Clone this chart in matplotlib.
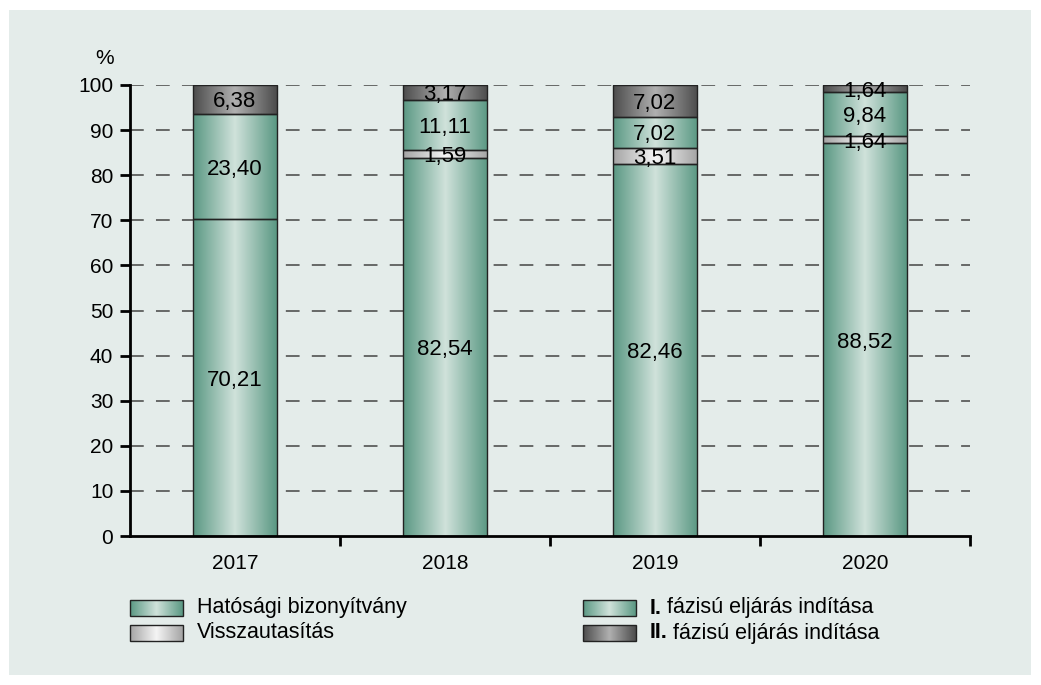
import numpy as np
import matplotlib
matplotlib.use("Agg")
import matplotlib.pyplot as plt
from matplotlib.colors import LinearSegmentedColormap
from matplotlib.patches import Rectangle

plt.rcParams['font.family'] = ['Liberation Sans', 'DejaVu Sans']

years = ["2017", "2018", "2019", "2020"]
hatosagi = [70.21, 82.54, 82.46, 88.52]
visszautasitas = [0.0, 1.59, 3.51, 1.64]
fazis1 = [23.40, 11.11, 7.02, 9.84]
fazis2 = [6.38, 3.17, 7.02, 1.64]

series = [
    (("", "Hatósági bizonyítvány"), hatosagi),
    (("", "Visszautasítás"), visszautasitas),
    (("I.", "fázisú eljárás indítása"), fazis1),
    (("II.", "fázisú eljárás indítása"), fazis2),
]

# edge colour / centre colour for the horizontal gradient
grad = [
    ("#5a9883", "#d0e2db"),
    ("#a4a4a4", "#f5f5f5"),
    ("#5a9883", "#d0e2db"),
    ("#4c4c4c", "#b0b0b0"),
]

bg = "#e4ecea"
W, H = 1041, 685

fig = plt.figure(figsize=(W / 100, H / 100), dpi=100)
fig.patch.set_facecolor("white")

# background panel
bgax = fig.add_axes([0, 0, 1, 1])
bgax.set_xlim(0, W)
bgax.set_ylim(H, 0)
bgax.axis("off")
bgax.add_patch(Rectangle((9, 10), W - 19, H - 20, facecolor=bg, edgecolor="none"))

ax = fig.add_axes([130 / W, (H - 536) / H, 840 / W, (536 - 85) / H])
ax.set_facecolor("none")


def grad_rect(a, x0, y0, w, h, cols, z=3):
    cmap = LinearSegmentedColormap.from_list("g", [cols[0], cols[1], cols[0]])
    g = np.linspace(0, 1, 256).reshape(1, -1)
    a.imshow(g, cmap=cmap, aspect="auto", extent=(x0, x0 + w, y0, y0 + h),
             zorder=z, interpolation="bilinear")
    a.add_patch(Rectangle((x0, y0), w, h, facecolor="none", edgecolor="#222222",
                          linewidth=1.0, zorder=z + 1))


bw = 0.4
for i in range(len(years)):
    total = sum(vals[i] for _, vals in series)
    bottom = 0
    for k, (name, vals) in enumerate(series):
        v = vals[i]
        if v <= 0:
            continue
        h = v / total * 100  # 100% stacked
        grad_rect(ax, i - bw / 2, bottom, bw, h, grad[k])
        ax.text(i, bottom + h / 2, f"{v:.2f}".replace(".", ","), ha="center",
                va="center_baseline", fontsize=16, color="black", zorder=6)
        bottom += h

ax.set_xlim(-0.5, 3.5)
ax.set_ylim(0, 100)

for y in range(10, 101, 10):
    ax.axhline(y, color="#444444", linewidth=1.1, dashes=(9, 8), zorder=1)

ax.set_yticks(range(0, 101, 10))
ax.set_xticks([0.5, 1.5, 2.5, 3.5])
ax.set_xticklabels([])
ax.set_xticks(range(4), minor=True)
ax.set_xticklabels(years, minor=True)
ax.tick_params(axis="x", which="minor", length=0, pad=13, labelsize=15)
ax.tick_params(axis="x", which="major", length=7, width=2, direction="out")
ax.tick_params(axis="y", length=7, width=2, direction="out", labelsize=15, pad=5)
for s in ["top", "right"]:
    ax.spines[s].set_visible(False)
for s in ["left", "bottom"]:
    ax.spines[s].set_linewidth(2)
    ax.spines[s].set_zorder(7)

fig.text(105 / W, 1 - 58 / H, "%", fontsize=15, ha="center", va="center")

# legend drawn by hand, in pixel coords
renderer = fig.canvas.get_renderer()
leg_pos = [(130, 608), (130, 633), (583, 608), (583, 633)]
for k, ((bold, name), vals) in enumerate(series):
    x, y = leg_pos[k]
    cmap = LinearSegmentedColormap.from_list("g", [grad[k][0], grad[k][1], grad[k][0]])
    g = np.linspace(0, 1, 256).reshape(1, -1)
    bgax.imshow(g, cmap=cmap, aspect="auto", extent=(x, x + 53, y + 8, y - 8),
                zorder=3, interpolation="bilinear")
    bgax.add_patch(Rectangle((x, y - 8), 53, 16, facecolor="none", edgecolor="#222222",
                             linewidth=1.0, zorder=4))
    tx = x + 67
    if bold:
        t = bgax.text(tx, y, bold, fontsize=15.5, fontweight="bold", ha="left", va="center")
        ext = t.get_window_extent(renderer)
        tx += ext.width + 5
    bgax.text(tx, y, name, fontsize=15.5, ha="left", va="center")
bgax.set_xlim(0, W)
bgax.set_ylim(H, 0)

fig.savefig("out.png", dpi=100, facecolor="white")
